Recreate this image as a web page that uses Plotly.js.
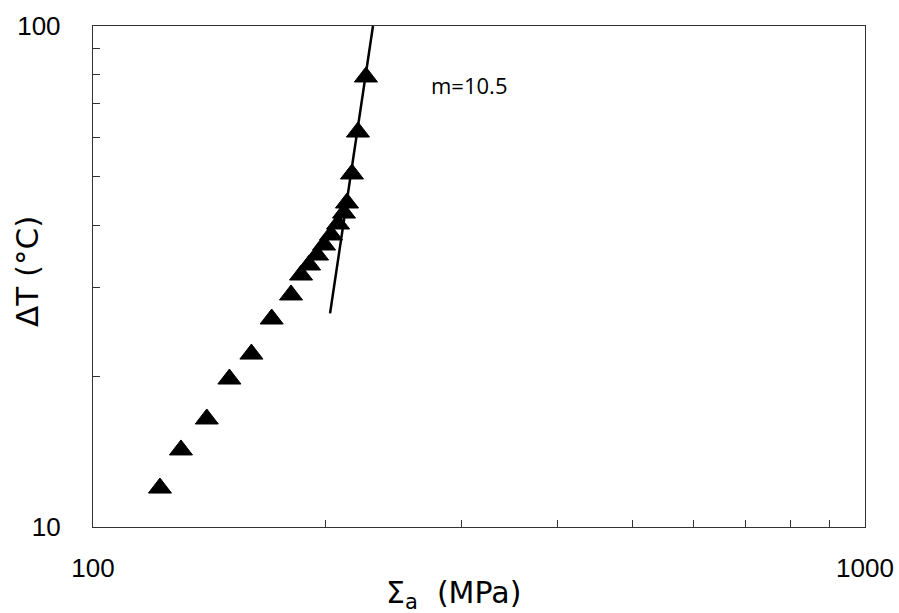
<!DOCTYPE html>
<html>
<head>
<meta charset="utf-8">
<script src="https://cdn.plot.ly/plotly-3.0.1.min.js"></script>
<style>html,body{margin:0;padding:0;background:#fff;}#chart{width:899px;height:613px;}</style>
</head>
<body>
<div id="chart"></div>
<script>
// Measured data: stress amplitude (MPa) vs temperature rise (°C)
const sigmaA = [122.1, 130.0, 140.4, 150.2, 160.4, 170.4, 180.5, 186.0, 190.5, 195.1, 199.2, 203.4, 207.7, 211.4, 213.3, 216.5, 220.4, 225.7];
const deltaT = [11.96, 14.25, 16.43, 19.74, 22.14, 26.01, 29.05, 31.84, 33.34, 34.90, 36.55, 38.27, 40.25, 42.33, 44.33, 50.66, 61.43, 79.12];

// Fitted line (slope m = 10.5 in log-log)
const fitX = [202.8, 230.5];
const fitY = [26.7, 100];

// Ticks
const xTickVals = [100, 1000];
const xTickText = ['100', '1000'];
const xMinorVals = [200, 300, 400, 500, 600, 700, 800, 900];
const yTickVals = [10, 100];
const yTickText = ['10', '100'];
const yMinorVals = [20, 30, 40, 50, 60, 70, 80, 90];

const xTitle = 'Σ<sub>a</sub>  (MPa)';
const yTitle = 'ΔT (°C)';
const slopeLabel = 'm=10.5';

const traces = [
  {
    x: fitX, y: fitY, type: 'scatter', mode: 'lines',
    line: {color: '#000', width: 2.5}, hoverinfo: 'skip', showlegend: false
  },
  {
    x: sigmaA, y: deltaT, type: 'scatter', mode: 'markers',
    marker: {symbol: 'triangle-up', size: 20, color: '#000', line: {color: '#000', width: 1}},
    showlegend: false
  }
];

const axisFont = {family: 'Liberation Sans, Arial, sans-serif', size: 26, color: '#000'};
const titleFont = {family: 'DejaVu Sans, sans-serif', size: 30, color: '#000'};

const layout = {
  width: 899, height: 613,
  margin: {l: 93, r: 34, t: 26, b: 86},
  paper_bgcolor: '#fff', plot_bgcolor: '#fff',
  showlegend: false,
  xaxis: {
    type: 'log', range: [2, 3], autorange: false,
    showline: true, mirror: true, linecolor: '#333', linewidth: 1.2,
    ticks: 'inside', ticklen: 7, tickwidth: 1, tickcolor: '#333',
    tickmode: 'array', tickvals: xTickVals, ticktext: xTickText,
    minor: {tickmode: 'array', tickvals: xMinorVals, ticks: 'inside', ticklen: 7, tickwidth: 1, tickcolor: '#333', showgrid: false},
    showgrid: false, zeroline: false,
    tickfont: axisFont, ticklabelstandoff: 18
  },
  yaxis: {
    type: 'log', range: [1, 2], autorange: false,
    showline: true, mirror: true, linecolor: '#333', linewidth: 1.2,
    ticks: 'inside', ticklen: 7, tickwidth: 1, tickcolor: '#333',
    tickmode: 'array', tickvals: yTickVals, ticktext: yTickText,
    minor: {tickmode: 'array', tickvals: yMinorVals, ticks: 'inside', ticklen: 7, tickwidth: 1, tickcolor: '#333', showgrid: false},
    showgrid: false, zeroline: false,
    tickfont: axisFont, ticklabelstandoff: 26
  },
  annotations: [
    {
      x: Math.log10(307), y: Math.log10(76.2), xref: 'x', yref: 'y',
      text: slopeLabel, showarrow: false,
      font: {family: 'Open Sans, sans-serif', size: 22, color: '#000'}
    },
    {
      x: (453 - 93) / 772, y: (527 - 594) / 501, xref: 'paper', yref: 'paper',
      text: xTitle, showarrow: false, xanchor: 'center', yanchor: 'middle',
      font: titleFont
    },
    {
      x: (27 - 93) / 772, y: (527 - 272) / 501, xref: 'paper', yref: 'paper',
      text: yTitle, showarrow: false, textangle: -90, xanchor: 'center', yanchor: 'middle',
      font: Object.assign({}, titleFont, {size: 31})
    }
  ]
};

Plotly.newPlot('chart', traces, layout, {displayModeBar: false, staticPlot: true});
</script>
</body>
</html>
